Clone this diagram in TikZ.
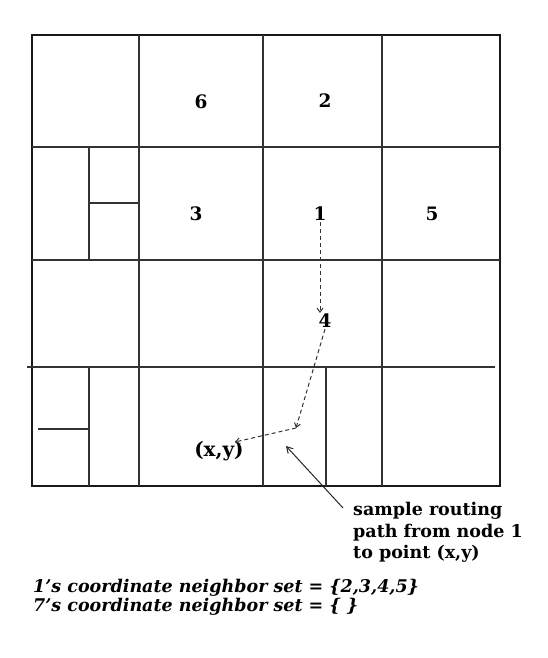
\documentclass[tikz,border=0pt]{standalone}
\usepackage{fontspec}
\setmainfont{DejaVu Serif}
\usetikzlibrary{arrows.meta}

\begin{document}
\begin{tikzpicture}[x = 1pt, y = -1pt, font=\bfseries]
	\tikzstyle{borderStyle} = [line width = 2pt, black!90]
	\tikzstyle{cellStyle} = [line width = 1.1pt, black!80]
	\tikzstyle{labelStyle} = [inner sep = 1pt, font = \fontsize{18.5}{22}\selectfont\bfseries]
	\tikzstyle{routeStyle} = [dash pattern = on 4pt off 3pt, line width = 1pt, black!80,
		-{Straight Barb[length = 4pt, width = 6pt]}]
	\tikzstyle{pointerStyle} = [line width = 1pt, black!85,
		-{Straight Barb[length = 6pt, width = 7pt]}]
	\useasboundingbox (0,0) rectangle (548,658);
	% zones
	\draw[borderStyle] (32,35) rectangle (500,486);
	\draw[cellStyle] (139,35) -- (139,486);
	\draw[cellStyle] (263,35) -- (263,486);
	\draw[cellStyle] (382,35) -- (382,486);
	\draw[cellStyle] (32,147) -- (500,147);
	\draw[cellStyle] (32,260) -- (500,260);
	\draw[cellStyle] (27,367) -- (495,367);
	\draw[cellStyle] (89,147) -- (89,260);
	\draw[cellStyle] (89,203) -- (139,203);
	\draw[cellStyle] (89,367) -- (89,486);
	\draw[cellStyle] (38,429) -- (89,429);
	\draw[cellStyle] (326,367) -- (326,486);
	% nodes
	\node[labelStyle] (n6) at (201,102) {6};
	\node[labelStyle] (n2) at (325,101) {2};
	\node[labelStyle] (n3) at (196,214) {3};
	\node[labelStyle] (n1) at (320,214) {1};
	\node[labelStyle] (n5) at (432,214) {5};
	\node[labelStyle] (n4) at (325,321) {4};
	\node[labelStyle, font = \fontsize{20}{24}\selectfont\bfseries] (xy) at (219,451) {(x,y)};
	\coordinate (bend) at (296,428);
	\coordinate (xyEnd) at (235,442);
	\coordinate (tail) at (343,508);
	\coordinate (head) at (286,446);
	% routing path
	\draw[routeStyle] (n1.south) -- (n1.south |- n4.north);
	\draw[routeStyle] (n4.south) -- (bend);
	\draw[routeStyle] (bend) -- (xyEnd);
	\draw[pointerStyle] (tail) -- (head);
	\node[anchor = north west, align = left, inner sep = 0pt,
		font = \fontsize{17.5}{21.5}\selectfont\bfseries] (note) at (353,502)
		{sample routing\\path from node 1\\to point (x,y)};
	\node[anchor = base west, inner sep = 0pt,
		font = \fontsize{17.5}{19}\selectfont\bfseries\itshape] (set1) at (33,592)
		{1's coordinate neighbor set = \{2,3,4,5\}};
	\node[anchor = base west, inner sep = 0pt,
		font = \fontsize{17.5}{19}\selectfont\bfseries\itshape] (set7) at (33,611)
		{7's coordinate neighbor set = \{ \}};
\end{tikzpicture}
\end{document}
